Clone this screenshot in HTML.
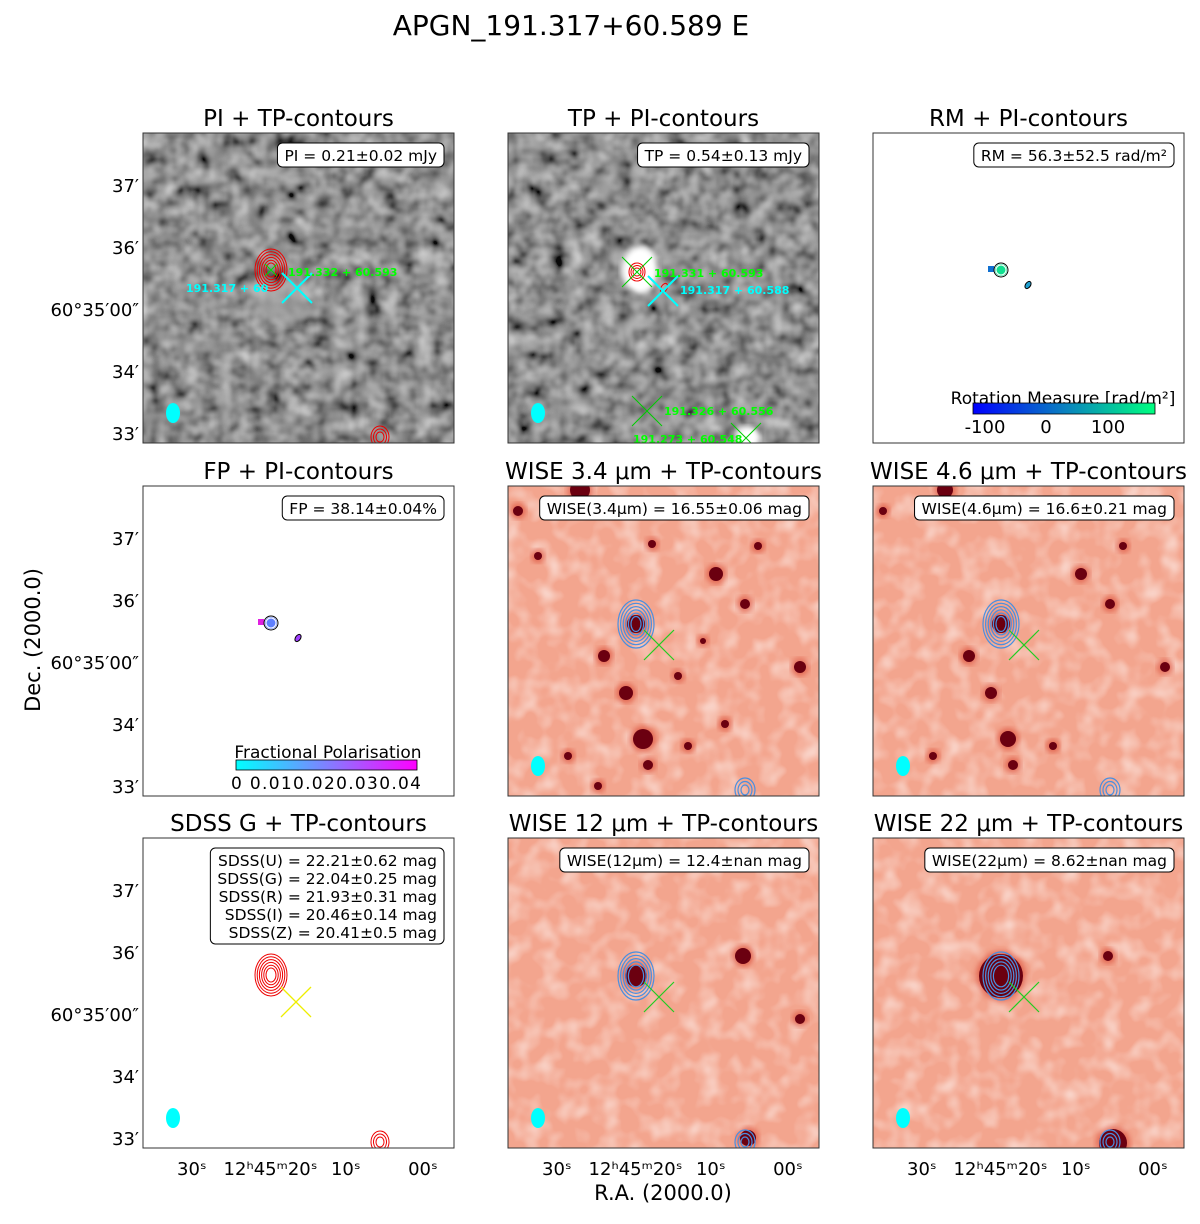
<!DOCTYPE html>
<html><head><meta charset="utf-8"><style>
html,body{margin:0;padding:0;background:#fff;}
svg{display:block;font-family:"DejaVu Sans","Liberation Sans",sans-serif;}
</style></head><body>
<svg id="fig" width="1200" height="1224" viewBox="0 0 1200 1224" xmlns="http://www.w3.org/2000/svg">
<defs>
<filter id="grayNoise" x="0" y="0" width="100%" height="100%">
<feTurbulence type="fractalNoise" baseFrequency="0.06" numOctaves="2" seed="3"/>
<feColorMatrix type="matrix" values="0.6 0.6 0 0 -0.3  0.6 0.6 0 0 -0.3  0.6 0.6 0 0 -0.3  0 0 0 0 1"/>
</filter>
<filter id="redNoise" x="0" y="0" width="100%" height="100%">
<feTurbulence type="fractalNoise" baseFrequency="0.05" numOctaves="2" seed="7"/>
<feColorMatrix type="matrix" values="0 0 0 0 1  0 0 0 0 1  0 0 0 0 1  0 0 0 1.2 -0.5"/>
</filter>
<filter id="blur3"><feGaussianBlur stdDeviation="3"/></filter>
<filter id="blur8"><feGaussianBlur stdDeviation="8"/></filter>
<linearGradient id="rmGrad" x1="0" x2="1"><stop offset="0" stop-color="#0000ff"/><stop offset="0.5" stop-color="#0a80c0"/><stop offset="1" stop-color="#00ff80"/></linearGradient>
<linearGradient id="fpGrad" x1="0" x2="1"><stop offset="0" stop-color="#00ffff"/><stop offset="0.5" stop-color="#8080ff"/><stop offset="1" stop-color="#ff00ff"/></linearGradient>
</defs>
<text x="571" y="35" font-size="28" text-anchor="middle">APGN_191.317+60.589 E</text>
<text transform="translate(40,640) rotate(-90)" font-size="21" text-anchor="middle">Dec. (2000.0)</text>
<text x="663" y="1200" font-size="21" text-anchor="middle">R.A. (2000.0)</text>
<g id="panels"></g>
</svg>
<script>
const NS='http://www.w3.org/2000/svg';
const svg=document.getElementById('panels');
const colX=[143,508,873];
const rowY=[133,486,838];
const PW=311, PH=310;
const yTickLabels=['37′','36′','60°35′00″','34′','33′'];
const yTickFrac=[0.2,0.4,0.6,0.8,1.0];
const xTickLabels=['30ˢ','12ʰ45ᵐ20ˢ','10ˢ','00ˢ'];
const xTickFrac=[0.157,0.41,0.652,0.9];
const titles=['PI + TP-contours','TP + PI-contours','RM + PI-contours','FP + PI-contours','WISE 3.4 μm + TP-contours','WISE 4.6 μm + TP-contours','SDSS G + TP-contours','WISE 12 μm + TP-contours','WISE 22 μm + TP-contours'];
const kinds=['gray','gray','white','white','red','red','white','red','red'];
const boxTexts=[['PI = 0.21±0.02 mJy'],['TP = 0.54±0.13 mJy'],['RM = 56.3±52.5 rad/m²'],['FP = 38.14±0.04%'],['WISE(3.4μm) = 16.55±0.06 mag'],['WISE(4.6μm) = 16.6±0.21 mag'],['SDSS(U) = 22.21±0.62 mag','SDSS(G) = 22.04±0.25 mag','SDSS(R) = 21.93±0.31 mag','SDSS(I) = 20.46±0.14 mag','SDSS(Z) = 20.41±0.5 mag'],['WISE(12μm) = 12.4±nan mag'],['WISE(22μm) = 8.62±nan mag']];
const spots={
4:[[72,4,10],[208,88,7],[144,58,4],[237,118,5],[96,170,6],[118,207,7],[135,253,10],[140,279,5],[292,181,6],[217,238,4],[128,138,9],[195,155,3],[10,25,5],[60,270,4],[170,190,4],[250,60,4],[30,70,4],[90,300,4],[180,260,4]],
5:[[72,4,8],[208,88,6],[237,118,5],[96,170,6],[118,207,6],[135,253,8],[140,279,5],[292,181,5],[128,138,9],[10,25,4],[60,270,4],[250,60,4],[180,260,4]],
7:[[128,138,11],[235,118,8],[292,181,5],[240,300,8]],
8:[[128,138,22],[235,118,5],[240,305,14]]
};
function el(tag,attrs,parent,name,inter){const e=document.createElementNS(NS,tag);for(const k in attrs)e.setAttribute(k,attrs[k]);(parent||svg).appendChild(e);


return e;}
for(let i=0;i<9;i++){
  const r=Math.floor(i/3),c=i%3,x0=colX[c],y0=rowY[r];
  const g=el('g',{},svg,'panel-'+(i+1));
  const clipId='clip'+i;
  const cp=el('clipPath',{id:clipId},g,'clip');
  el('rect',{x:x0,y:y0,width:PW,height:PH},cp,'clip-rect');
  const img=el('g',{'clip-path':'url(#'+clipId+')'},g,'panel-image');
  if(kinds[i]==='gray'){
    el('rect',{x:x0,y:y0,width:PW,height:PH,fill:'#5e5e5e'},img,'background');
    el('rect',{x:x0,y:y0,width:PW,height:PH,filter:'url(#grayNoise)',opacity:0.9},img,'noise');
    if(i===1){
      el('ellipse',{cx:x0+132,cy:y0+137,rx:18,ry:24,fill:'#fff',filter:'url(#blur3)'},img,'tp-source');
      el('circle',{cx:x0+240,cy:y0+305,r:12,fill:'#fff',filter:'url(#blur3)'},img,'tp-source-3');
    } else {
      el('ellipse',{cx:x0+140,cy:y0+170,rx:30,ry:22,fill:'#aaa',filter:'url(#blur8)',opacity:0.7},img,'pi-glow');
    }
  } else if(kinds[i]==='red'){
    el('rect',{x:x0,y:y0,width:PW,height:PH,fill:'#f3a58e'},img,'background');
    el('rect',{x:x0,y:y0,width:PW,height:PH,filter:'url(#redNoise)',opacity:0.9},img,'noise');
    (spots[i]||[]).forEach(s=>{
      el('circle',{cx:x0+s[0],cy:y0+s[1],r:s[2]+3,fill:'#d8402c',opacity:0.6,filter:'url(#blur3)'},img,'source-halo');
      el('circle',{cx:x0+s[0],cy:y0+s[1],r:s[2],fill:'#6b0010'},img,'source');
    });
  } else {
    el('rect',{x:x0,y:y0,width:PW,height:PH,fill:'#fff'},img,'background');
  }
  const sx=x0+128, sy=y0+137;
  if(i===0||i===6){
    for(let k=0;k<6;k++) el('ellipse',{cx:sx,cy:sy,rx:16-k*2.2,ry:21-k*2.8,fill:'none',stroke:'#e00',"stroke-width":1},img,'tp-contour');
    for(let k=0;k<3;k++) el('ellipse',{cx:x0+237,cy:y0+304,rx:9-k*2.5,ry:11-k*3,fill:'none',stroke:'#e00',"stroke-width":1},img,'tp-contour-2');
  }
  if(i===1){
    for(let k=0;k<3;k++) el('ellipse',{cx:sx+1,cy:sy+2,rx:8-k*2,ry:9-k*2.5,fill:'none',stroke:'#e00',"stroke-width":1},img,'pi-contour');
    el('ellipse',{cx:x0+156,cy:y0+155,rx:3,ry:5,fill:'none',stroke:'#e00',transform:'rotate(30 '+(x0+156)+' '+(y0+155)+')'},img,'pi-contour-2');
  }
  if(i===2||i===3){
    const fillc=i===2?'#10e090':'#6080ff';
    el('rect',{x:x0+115,y:y0+133,width:6,height:6,fill:i===2?'#1070d0':'#e020e0'},img,'pixel');
    el('circle',{cx:sx,cy:sy,r:6,fill:fillc},img,'pixel-blob');
    el('circle',{cx:sx,cy:sy,r:7,fill:'none',stroke:'#000'},img,'pi-contour');
    el('circle',{cx:sx,cy:sy,r:5,fill:'none',stroke:'#fff'},img,'pi-contour');
    el('ellipse',{cx:x0+155,cy:y0+152,rx:2.5,ry:4,fill:i===2?'#20a0d0':'#a040ff',stroke:'#000',transform:'rotate(35 '+(x0+155)+' '+(y0+152)+')'},img,'pi-contour-2');
  }
  if(kinds[i]==='red'){
    const n=i===4||i===5?6:5;
    for(let k=0;k<n;k++) el('ellipse',{cx:sx,cy:sy+1,rx:18-k*2.6,ry:24-k*3.3,fill:'none',stroke:'#4a8fe0',"stroke-width":1.2},img,'tp-contour');
    for(let k=0;k<3;k++) el('ellipse',{cx:x0+237,cy:y0+304,rx:10-k*3,ry:12-k*3.5,fill:'none',stroke:'#4a8fe0',"stroke-width":1.2},img,'tp-contour-2');
  }
  function cross(cx,cy,s,col,w,nm){el('path',{d:`M${cx-s},${cy-s}L${cx+s},${cy+s}M${cx-s},${cy+s}L${cx+s},${cy-s}`,stroke:col,"stroke-width":w,fill:'none'},img,nm);}
  if(i===0){cross(sx,sy,6,'#0d0',1,'match-cross');cross(x0+154,y0+155,15,'#0ff',2,'source-cross');
    el('text',{x:x0+145,y:y0+143,fill:'#0f0','font-size':11,'font-weight':'bold'},img,'match-label').textContent='191.332 + 60.593';
    el('text',{x:x0+43,y:y0+159,fill:'#0ff','font-size':11,'font-weight':'bold'},img,'source-label').textContent='191.317 + 60';}
  if(i===1){cross(sx+1,sy+2,15,'#0c0',1,'match-cross');cross(x0+155,y0+158,15,'#0ff',2,'source-cross');
    cross(x0+139,y0+278,15,'#0c0',1,'match-cross-2');cross(x0+238,y0+305,15,'#0c0',1,'match-cross-3');
    el('text',{x:x0+146,y:y0+144,fill:'#0f0','font-size':11,'font-weight':'bold'},img,'match-label').textContent='191.331 + 60.593';
    el('text',{x:x0+172,y:y0+161,fill:'#0ff','font-size':11,'font-weight':'bold'},img,'source-label').textContent='191.317 + 60.588';
    el('text',{x:x0+156,y:y0+282,fill:'#0f0','font-size':11,'font-weight':'bold'},img,'match-label-2').textContent='191.326 + 60.556';
    el('text',{x:x0+125,y:y0+310,fill:'#0f0','font-size':11,'font-weight':'bold'},img,'match-label-3').textContent='191.273 + 60.548';}
  if(kinds[i]==='red'){cross(x0+151,y0+159,15,'#2c2',1.2,'source-cross');}
  if(i===6){cross(x0+153,y0+164,15,'#ee0',1.3,'source-cross');}
  if(i!==2&&i!==3) el('ellipse',{cx:x0+30,cy:y0+280,rx:7,ry:10,fill:'#0ff'},img,'beam');
  if(i===2){
    el('text',{x:x0+190,y:y0+271,'font-size':17,'text-anchor':'middle'},g,'colorbar-label').textContent='Rotation Measure [rad/m²]';
    el('rect',{x:x0+100,y:y0+270,width:182,height:11,fill:'url(#rmGrad)',stroke:'#000','stroke-width':0.8},g,'colorbar');
    [['-100',112],['0',173],['100',235]].forEach(t=>{el('text',{x:x0+t[1],y:y0+300,'font-size':18,'text-anchor':'middle'},g,'colorbar-tick').textContent=t[0];});
  }
  if(i===3){
    el('text',{x:x0+185,y:y0+272,'font-size':17,'text-anchor':'middle'},g,'colorbar-label').textContent='Fractional Polarisation';
    el('rect',{x:x0+93,y:y0+274,width:181,height:10,fill:'url(#fpGrad)',stroke:'#000','stroke-width':0.8},g,'colorbar');
    el('text',{x:x0+88,y:y0+303,'font-size':17,textLength:190},g,'colorbar-ticks').textContent='0 0.010.020.030.04';
  }
  el('rect',{x:x0,y:y0,width:PW,height:PH,fill:'none',stroke:'#333','stroke-width':1},g,'panel-frame');
  const lines=boxTexts[i];
  const fs=15.5, lh=18;
  const tw=[];
  lines.forEach((s,k)=>{const t=el('text',{x:0,y:by0=0,'font-size':fs,'text-anchor':'end'},g,'value-text');t.textContent=s;tw.push(t);});
  const w=Math.max(...tw.map(t=>t.getComputedTextLength()))+14;
  const bx=x0+PW-10-w, by=y0+10;
  const box=el('rect',{x:bx,y:by,width:w,height:lines.length*lh+6,rx:5,fill:'#fff',stroke:'#000','stroke-width':1},g,'value-box');
  g.insertBefore(box,tw[0]);
  tw.forEach((t,k)=>{t.setAttribute('x',bx+w-7);t.setAttribute('y',by+18+k*lh);});
  el('text',{x:x0+PW/2,y:y0-7,'font-size':23,'text-anchor':'middle'},g,'panel-title').textContent=titles[i];
  if(c===0){yTickLabels.forEach((t,k)=>{el('text',{x:x0-4,y:y0+PH*yTickFrac[k]-3,'font-size':18,'text-anchor':'end'},g,'y-tick-label').textContent=t;});}
  if(r===2){xTickLabels.forEach((t,k)=>{el('text',{x:x0+PW*xTickFrac[k],y:y0+PH+27,'font-size':18,'text-anchor':'middle'},g,'x-tick-label').textContent=t;});}
}
var by0;
</script>
</body></html>
